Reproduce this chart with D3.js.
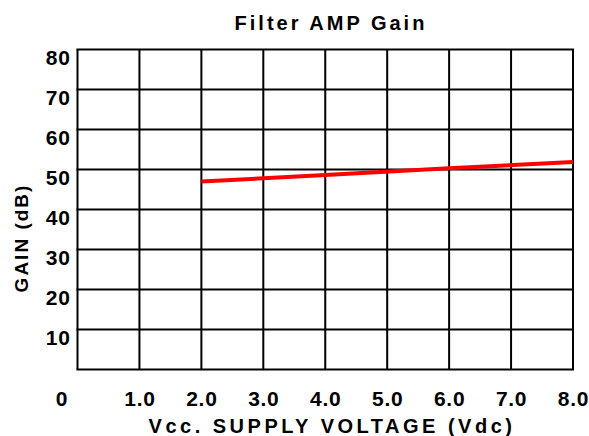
<!DOCTYPE html>
<html><head><meta charset="utf-8">
<script src="https://cdn.jsdelivr.net/npm/d3@7"></script>
<style>body{margin:0;background:#fff}svg{display:block}text{font-family:"Liberation Sans",Arial,sans-serif;font-weight:bold;fill:#000}</style>
</head><body><svg id="c" width="589" height="436"></svg>
<script>
const title = "Filter AMP Gain";
const xLabel = "Vcc. SUPPLY VOLTAGE (Vdc)";
const yLabel = "GAIN (dB)";
const xTicks = [0,1,2,3,4,5,6,7,8];
const xTickLabels = ["0","1.0","2.0","3.0","4.0","5.0","6.0","7.0","8.0"];
const yTicks = [0,10,20,30,40,50,60,70,80];
const yTickLabels = ["","10","20","30","40","50","60","70","80"];
const voltage = [2.0, 4.0, 6.0, 8.0];
const gain = [47.0, 48.6, 50.3, 51.9];

const svg = d3.select("#c");
const x = d3.scaleLinear().domain([0,8]).range([77.5,573]);
const y = d3.scaleLinear().domain([0,80]).range([369.5,49.5]);

// grid
svg.append("g").selectAll("line").data(xTicks).join("line")
  .attr("x1",d=>x(d)).attr("x2",d=>x(d)).attr("y1",y(0)).attr("y2",y(80))
  .attr("stroke","#000").attr("stroke-width",2);
svg.append("g").selectAll("line").data(yTicks).join("line")
  .attr("y1",d=>y(d)).attr("y2",d=>y(d)).attr("x1",x(0)-1).attr("x2",x(8)+1)
  .attr("stroke","#000").attr("stroke-width",2);

// y tick labels
svg.append("g").selectAll("text").data(yTicks).join("text")
  .attr("x",71).attr("y",d=>y(d)+15).attr("text-anchor","end")
  .attr("font-size",21).attr("letter-spacing",1)
  .text((d,i)=>yTickLabels[i]);
// x tick labels
svg.append("g").selectAll("text").data(xTicks).join("text")
  .attr("x",d=> d===0 ? 62 : x(d)+0.5).attr("y",406).attr("text-anchor","middle")
  .attr("font-size",21).attr("letter-spacing",0.7)
  .text((d,i)=>xTickLabels[i]);

// line
const line = d3.line().x(d=>x(d[0])).y(d=>y(d[1]));
svg.append("path").datum(voltage.map((v,i)=>[v,gain[i]]))
  .attr("d",line).attr("fill","none").attr("stroke","#ff0000").attr("stroke-width",4);

// titles
svg.append("text").attr("x",331).attr("y",30).attr("text-anchor","middle")
  .attr("font-size",20).attr("letter-spacing",3).text(title);
svg.append("text").attr("x",332).attr("y",433).attr("text-anchor","middle")
  .attr("font-size",20).attr("letter-spacing",3.5).text(xLabel);
svg.append("text").attr("transform","translate(28,238) rotate(-90)").attr("text-anchor","middle")
  .attr("font-size",19).attr("letter-spacing",2).text(yLabel);
</script></body></html>
